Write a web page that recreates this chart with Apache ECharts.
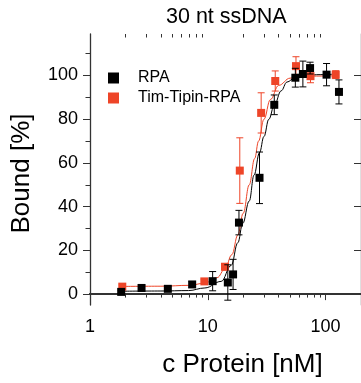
<!DOCTYPE html>
<html><head><meta charset="utf-8">
<script src="https://cdn.jsdelivr.net/npm/echarts@6/dist/echarts.min.js"></script>
<style>html,body{margin:0;padding:0;background:#fff}#c{width:361px;height:383px}</style>
</head><body><div id="c"></div>
<script>
// ---- data ----
const rpaConc  = [1.84, 2.74, 4.58, 7.37, 11.0, 14.8, 16.4, 18.4, 27.5, 36.7, 55.4, 64.2, 73.9, 102, 130];
const rpaBound = [1.0, 2.8, 2.4, 4.4, 5.9, 5.3, 9.0, 32.7, 53.2, 86.6, 99.0, 100.7, 103.4, 100.4, 92.5];
const rpaErr   = [0.8, 1.2, 1.0, 1.3, 4.4, 8.1, 6.9, 5.6, 11.8, 4.5, 4.3, 5.9, 2.7, 5.1, 5.5];

const ttConc  = [1.88, 9.35, 14.0, 18.7, 28.4, 37.4, 56.1, 74.5, 122];
const ttBound = [3.4, 5.8, 12.5, 56.5, 82.9, 97.5, 104.3, 99.7, 100.4];
const ttErr   = [0.8, 1.0, 1.5, 15.0, 9.2, 4.6, 4.3, 3.0, 1.8];

// fitted curves
const rpaFitConc  = [1.84, 4, 6.87, 9.45, 13.0, 15.8, 18.0, 19.8, 22.5, 24.7, 27.5, 30.0, 33, 36.8, 42, 47, 55, 70, 90, 127];
const rpaFitBound = [1.3, 1.4, 1.6, 2.8, 5.8, 13.1, 23.5, 32.3, 42.6, 54.4, 64.7, 72.1, 80, 86.6, 93, 97, 99, 100.2, 100.4, 100.7];
const ttFitConc   = [1.88, 4, 7, 9.4, 12, 14, 16, 18, 20, 22.5, 25, 27, 30, 34, 40, 50, 70, 122];
const ttFitBound  = [3.5, 3.6, 4.0, 5.0, 7.5, 11.5, 18, 27, 37, 50, 62, 70, 80, 89, 95.5, 98.8, 99.7, 99.9];

// tick labels
const xMajorTicks = [1, 10, 100];
const xMinorTicks = [2,3,4,5,6,7,8,9,20,30,40,50,60,70,80,90,200];
const yMajorTicks = [0, 20, 40, 60, 80, 100];
const yMinorTicks = [10, 30, 50, 70, 90, 110];

const BLACK = '#000000';
const RED = '#ee4528';
const AXIS = '#333333';
const FONT = '"Liberation Sans", Arial, Helvetica, sans-serif';

const zip = (a, b, c) => a.map((v, i) => c ? [v, b[i], c[i]] : [v, b[i]]);

function errRender(color) {
  return function (params, api) {
    const x = api.value(0), y = api.value(1), e = api.value(2);
    const t = api.coord([x, y + e]);
    const b = api.coord([x, y - e]);
    const hw = 3.5;
    const st = { stroke: color, lineWidth: 1 };
    return { type: 'group', children: [
      { type: 'line', shape: { x1: t[0], y1: t[1], x2: b[0], y2: b[1] }, style: st },
      { type: 'line', shape: { x1: t[0] - hw, y1: t[1], x2: t[0] + hw, y2: t[1] }, style: st },
      { type: 'line', shape: { x1: b[0] - hw, y1: b[1], x2: b[0] + hw, y2: b[1] }, style: st }
    ]};
  };
}

const xBase = { type: 'log', logBase: 10, min: 1, max: 200, gridIndex: 0, splitLine: { show: false } };
const yBase = { type: 'value', min: -5, max: 119, gridIndex: 0, splitLine: { show: false } };

const option = {
  animation: false,
  backgroundColor: '#fff',
  textStyle: { fontFamily: FONT },
  title: {
    text: '30 nt ssDNA', left: 166, top: 6, padding: 0,
    textStyle: { fontFamily: FONT, fontSize: 21.5, fontWeight: 'normal', color: '#000' }
  },
  legend: {
    orient: 'vertical', left: 108, top: 70, padding: 0, itemGap: 4,
    icon: 'rect', itemWidth: 11, itemHeight: 11,
    data: ['RPA', 'Tim-Tipin-RPA'],
    textStyle: { fontFamily: FONT, fontSize: 16, color: '#000', lineHeight: 15, padding: [0, 0, 0, 14] }
  },
  grid: { left: 90, top: 34, width: 275, height: 280, containLabel: false },
  xAxis: [
    Object.assign({}, xBase, {
      position: 'bottom',
      name: 'c Protein [nM]', nameLocation: 'middle', nameGap: 47,
      nameTextStyle: { fontFamily: FONT, fontSize: 26, color: '#000', padding: [0, 0, 0, 34] },
      axisLine: { show: true, lineStyle: { color: AXIS, width: 2 } },
      axisTick: { show: true, inside: false, length: 6, customValues: xMajorTicks, lineStyle: { color: AXIS, width: 1 } },
      axisLabel: { show: true, margin: 13, customValues: xMajorTicks, fontFamily: FONT, fontSize: 18, color: '#000' }
    }),
    Object.assign({}, xBase, {
      position: 'bottom', offset: 0,
      axisLine: { show: false },
      axisTick: { show: true, inside: false, length: 3.5, customValues: xMinorTicks, lineStyle: { color: AXIS, width: 1 } },
      axisLabel: { show: false }
    }),
    Object.assign({}, xBase, {
      position: 'top', offset: 0,
      axisLine: { show: true, lineStyle: { color: AXIS, width: 2 } },
      axisTick: { show: true, inside: true, length: 6, customValues: xMajorTicks, lineStyle: { color: AXIS, width: 1 } },
      axisLabel: { show: false }
    }),
    Object.assign({}, xBase, {
      position: 'top', offset: 0,
      axisLine: { show: false },
      axisTick: { show: true, inside: true, length: 3.5, customValues: xMinorTicks, lineStyle: { color: AXIS, width: 1 } },
      axisLabel: { show: false }
    })
  ],
  yAxis: [
    Object.assign({}, yBase, {
      position: 'left',
      name: 'Bound [%]', nameLocation: 'middle', nameGap: 55,
      nameTextStyle: { fontFamily: FONT, fontSize: 26, color: '#000', padding: [0, 8, 0, 0] },
      axisLine: { show: true, lineStyle: { color: AXIS, width: 1.3 } },
      axisTick: { show: true, inside: false, length: 7, customValues: yMajorTicks, lineStyle: { color: AXIS, width: 1 } },
      axisLabel: { show: true, margin: 12, customValues: yMajorTicks, fontFamily: FONT, fontSize: 18, color: '#000' }
    }),
    Object.assign({}, yBase, {
      position: 'left', offset: 0,
      axisLine: { show: false },
      axisTick: { show: true, inside: false, length: 4.5, customValues: yMinorTicks, lineStyle: { color: AXIS, width: 1 } },
      axisLabel: { show: false }
    }),
    Object.assign({}, yBase, {
      position: 'right', offset: 0,
      axisLine: { show: true, lineStyle: { color: AXIS, width: 1.3 } },
      axisTick: { show: true, inside: true, length: 7, customValues: yMajorTicks, lineStyle: { color: AXIS, width: 1 } },
      axisLabel: { show: false }
    })
  ],
  series: [
    { name: 'ttFit', type: 'line', xAxisIndex: 0, yAxisIndex: 0, data: zip(ttFitConc, ttFitBound),
      showSymbol: false, symbol: 'none', smooth: 0.4, smoothMonotone: 'x',
      lineStyle: { color: RED, width: 1 }, z: 2, silent: true },
    { name: 'rpaFit', type: 'line', xAxisIndex: 0, yAxisIndex: 0, data: zip(rpaFitConc, rpaFitBound),
      showSymbol: false, symbol: 'none', smooth: 0.4, smoothMonotone: 'x',
      lineStyle: { color: BLACK, width: 1 }, z: 2, silent: true },
    { name: 'ttErr', type: 'custom', xAxisIndex: 0, yAxisIndex: 0, data: zip(ttConc, ttBound, ttErr),
      encode: { x: 0, y: 1 }, renderItem: errRender(RED), z: 3, silent: true },
    { name: 'Tim-Tipin-RPA', type: 'scatter', xAxisIndex: 0, yAxisIndex: 0, data: zip(ttConc, ttBound),
      symbol: 'rect', symbolSize: 8, itemStyle: { color: RED, opacity: 1 }, z: 4 },
    { name: 'rpaErr', type: 'custom', xAxisIndex: 0, yAxisIndex: 0, data: zip(rpaConc, rpaBound, rpaErr),
      encode: { x: 0, y: 1 }, renderItem: errRender(BLACK), z: 5, silent: true },
    { name: 'RPA', type: 'scatter', xAxisIndex: 0, yAxisIndex: 0, data: zip(rpaConc, rpaBound),
      symbol: 'rect', symbolSize: 8, itemStyle: { color: BLACK, opacity: 1 }, z: 6 }
  ]
};
option.legend.data = [
  { name: 'RPA', itemStyle: { color: BLACK } },
  { name: 'Tim-Tipin-RPA', itemStyle: { color: RED } }
];
const chart = echarts.init(document.getElementById('c'));
chart.setOption(option);
</script>
</body></html>
